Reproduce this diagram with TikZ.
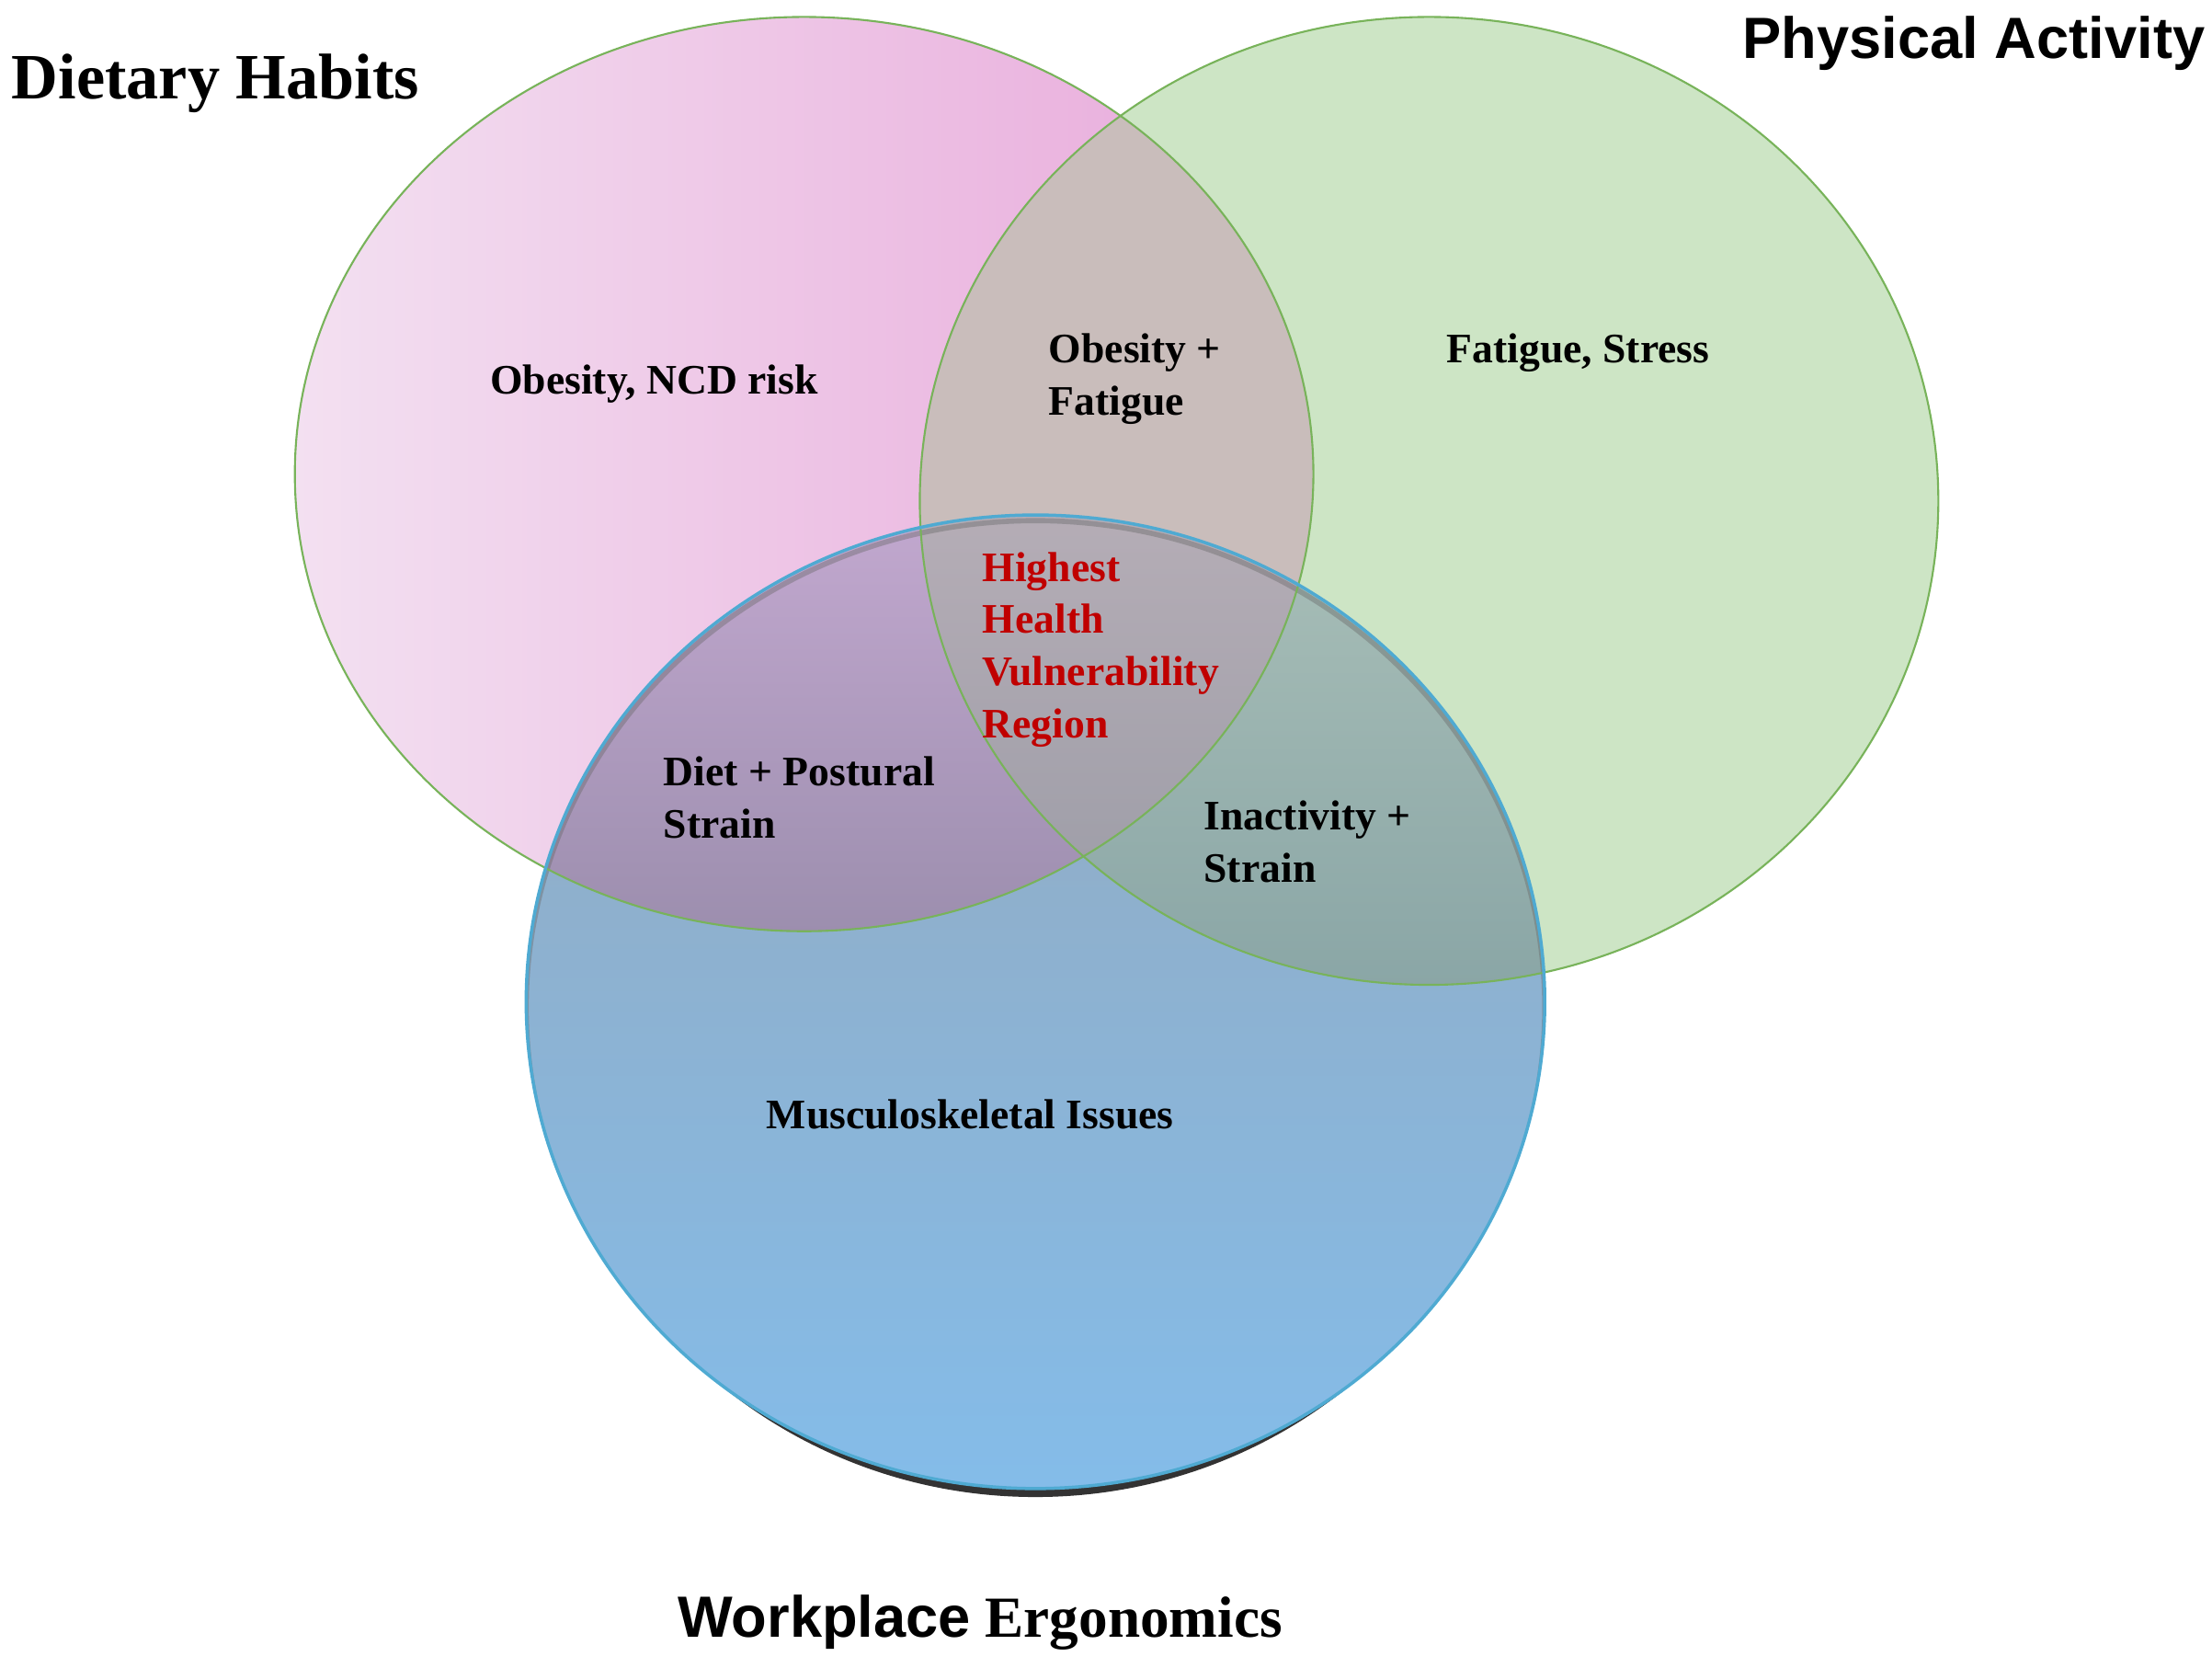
\documentclass[tikz,border=0pt]{standalone}
\usepackage{fontspec}
\setmainfont{Liberation Serif}
\newfontfamily\headsans{Liberation Sans}

\definecolor{pinkL}{HTML}{F3E0F1}
\definecolor{pinkR}{HTML}{E8A8DA}
\definecolor{greenF}{HTML}{CDE5C5}
\definecolor{greenB}{HTML}{78B35A}
\definecolor{blueT}{HTML}{95A8BB}
\definecolor{blueM}{HTML}{8AA7C4}
\definecolor{blueB}{HTML}{84BCE9}
\definecolor{blueE}{HTML}{4FAAD2}
\definecolor{pgF}{HTML}{C9BDBB}
\definecolor{pbT}{HTML}{C2A8CF}
\definecolor{pbB}{HTML}{9C8EAE}
\definecolor{gbT}{HTML}{A9BFB8}
\definecolor{gbB}{HTML}{8AA6A6}
\definecolor{allT}{HTML}{B5ADB6}
\definecolor{allB}{HTML}{A09FA9}
\definecolor{hotred}{HTML}{C00000}

\tikzset{
  lbl/.style={font=\bfseries\fontsize{13}{16.2}\selectfont, align=left, anchor=west, inner sep=0pt},
  ttl/.style={font=\bfseries\fontsize{20}{24}\selectfont, anchor=west, inner sep=0pt}
}

\begin{document}
\begin{tikzpicture}[x=0.015344cm, y=-0.015344cm]
  \useasboundingbox (0,0) rectangle (1568,1181.6);

  % the three sets
  \shade[left color=pinkL, right color=pinkR] (570,336) ellipse [x radius=361, y radius=324];
  \fill[greenF] (1013,355) ellipse [x radius=361, y radius=343];
  \begin{scope}
    \clip (570,336) ellipse [x radius=361, y radius=324];
    \fill[pgF] (1013,355) ellipse [x radius=361, y radius=343];
  \end{scope}

  \fill[black, opacity=0.8] (734,716) ellipse [x radius=350, y radius=345];
  \shade[top color=blueT, middle color=blueM, bottom color=blueB] (734,710) ellipse [x radius=361, y radius=345];

  % overlaps with the lower set
  \begin{scope}
    \clip (734,710) ellipse [x radius=361, y radius=345];
    \begin{scope}
      \clip (570,336) ellipse [x radius=361, y radius=324];
      \shade[top color=pbT, bottom color=pbB] (200,362) rectangle (940,662);
    \end{scope}
    \begin{scope}
      \clip (1013,355) ellipse [x radius=361, y radius=343];
      \shade[top color=gbT, bottom color=gbB] (640,362) rectangle (1380,700);
      \clip (570,336) ellipse [x radius=361, y radius=324];
      \shade[top color=allT, bottom color=allB] (640,362) rectangle (940,610);
    \end{scope}
    % inner shade under the top rim
    \draw[black!60, line width=1.6pt, opacity=0.4] (734,714) ellipse [x radius=361, y radius=345];
  \end{scope}

  \draw[greenB, line width=0.6pt] (570,336) ellipse [x radius=361, y radius=324];
  \draw[greenB, line width=0.6pt] (1013,355) ellipse [x radius=361, y radius=343];
  \draw[blueE, line width=1pt] (734,710) ellipse [x radius=361, y radius=345];

  % titles
  \node[ttl] (dietT) at (8,59) {Dietary Habits};
  \node[ttl, font=\headsans\bfseries\fontsize{18}{22}\selectfont] (physT) at (1235,31) {Physical Activity};
  \node[ttl, font=\bfseries\fontsize{18}{22}\selectfont] (workT) at (480,1150) {{\headsans Workplace} Ergonomics};

  % region labels
  \node[lbl] (dietL) at (347,272) {Obesity, NCD risk};
  \node[lbl] (dpL) at (743,268.5) {Obesity +\\Fatigue};
  \node[lbl] (physL) at (1025,250) {Fatigue, Stress};
  \node[lbl, text=hotred] (coreL) at (696,460.5) {Highest\\Health\\Vulnerability\\Region};
  \node[lbl] (dwL) at (470,565) {Diet + Postural\\Strain};
  \node[lbl] (pwL) at (853,596.5) {Inactivity +\\Strain};
  \node[lbl] (workL) at (543,790) {Musculoskeletal Issues};
\end{tikzpicture}
\end{document}
